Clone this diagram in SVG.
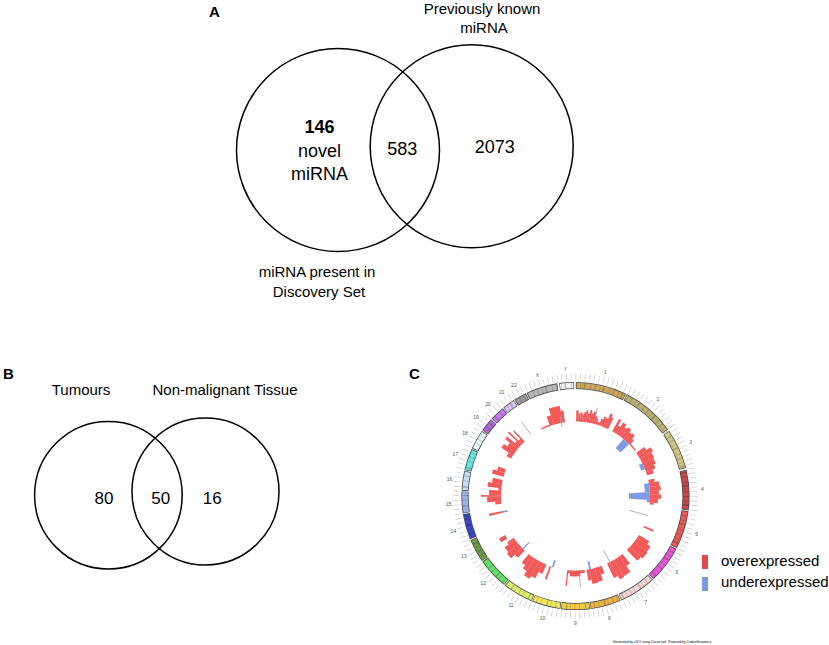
<svg xmlns="http://www.w3.org/2000/svg" width="829" height="645" viewBox="0 0 829 645">
<style>
 text { font-family: "Liberation Sans", Arial, sans-serif; fill:#000; }
 .lbl { font-size:15px; }
 .num { font-size:18px; }
 .numb { font-size:17px; }
 .mid { text-anchor:middle; }
 .panel { font-size:15px; font-weight:bold; }
 .venn { fill:none; stroke:#000; stroke-width:1.5; }
 .chrO { fill:none; stroke:#4a4a4a; stroke-width:7.2; }
 .chr { fill:none; stroke-width:5.6; }
 .up circle { fill:none; stroke:#f25a5a; }
 .dn circle { fill:none; stroke:#7f9be6; }
 .gl line { stroke:#a8a8a8; stroke-width:0.8; }
 .chrlab { font-size:5px; fill:#555; text-anchor:middle; }
</style>
<rect width="829" height="645" fill="#fff"/>

<!-- Panel A -->
<g id="panelA">
  <text class="panel" x="209" y="17">A</text>
  <g id="setA-discovery">
    <circle class="venn" cx="338" cy="150" r="101.5"/>
    <text class="lbl mid" x="317" y="277">miRNA present in</text>
    <text class="lbl mid" x="319" y="297">Discovery Set</text>
  </g>
  <g id="setA-known">
    <circle class="venn" cx="471.7" cy="146.3" r="101.5"/>
    <text class="lbl mid" x="482" y="14">Previously known</text>
    <text class="lbl mid" x="484" y="33">miRNA</text>
  </g>
  <g id="regionA-novel">
    <text class="num mid" x="319.5" y="133" font-weight="bold">146</text>
    <text class="num mid" x="319.5" y="157">novel</text>
    <text class="num mid" x="319.5" y="180">miRNA</text>
  </g>
  <g id="regionA-overlap"><text class="num mid" x="402.3" y="154.5">583</text></g>
  <g id="regionA-known"><text class="num mid" x="494.7" y="153">2073</text></g>
</g>

<!-- Panel B -->
<g id="panelB">
  <text class="panel" x="3" y="379">B</text>
  <g id="setB-tumours">
    <circle class="venn" cx="108.4" cy="495.2" r="73.8"/>
    <text class="lbl mid" x="81" y="395">Tumours</text>
  </g>
  <g id="setB-normal">
    <circle class="venn" cx="205.5" cy="491.5" r="73.5"/>
    <text class="lbl mid" x="225" y="395">Non-malignant Tissue</text>
  </g>
  <g id="regionB-tumour"><text class="numb mid" x="104" y="503.5">80</text></g>
  <g id="regionB-overlap"><text class="numb mid" x="160.7" y="503.5">50</text></g>
  <g id="regionB-normal"><text class="numb mid" x="212.3" y="503.5">16</text></g>
</g>

<!-- Panel C -->
<g id="panelC">
  <text class="panel" x="409" y="379">C</text>
  <g id="circos" transform="translate(575.5 496)">
    <!-- tick label texture -->
    <circle r="119.5" fill="none" stroke="#c2c2c2" stroke-width="6" pathLength="360" stroke-dasharray="0.3 1.95"/>
    <circle r="115" fill="none" stroke="#a8a8a8" stroke-width="1" pathLength="360" stroke-dasharray="0.2 2.05"/>
    <!-- chromosome outlines -->
    <g id="ideogram-outline" class="chrO">
      <circle r="110.5" pathLength="360" stroke-dasharray="26.1 360" transform="rotate(-89.8)"/>
      <circle r="110.5" pathLength="360" stroke-dasharray="27.6 360" transform="rotate(-63.3)"/>
      <circle r="110.5" pathLength="360" stroke-dasharray="20.6 360" transform="rotate(-34.8)"/>
      <circle r="110.5" pathLength="360" stroke-dasharray="20.6 360" transform="rotate(-13.3)"/>
      <circle r="110.5" pathLength="360" stroke-dasharray="19.6 360" transform="rotate(7.7)"/>
      <circle r="110.5" pathLength="360" stroke-dasharray="19.1 360" transform="rotate(27.7)"/>
      <circle r="110.5" pathLength="360" stroke-dasharray="19.1 360" transform="rotate(47.2)"/>
      <circle r="110.5" pathLength="360" stroke-dasharray="15.6 360" transform="rotate(66.7)"/>
      <circle r="110.5" pathLength="360" stroke-dasharray="14.6 360" transform="rotate(82.7)"/>
      <circle r="110.5" pathLength="360" stroke-dasharray="14.6 360" transform="rotate(97.7)"/>
      <circle r="110.5" pathLength="360" stroke-dasharray="15.6 360" transform="rotate(112.7)"/>
      <circle r="110.5" pathLength="360" stroke-dasharray="16.1 360" transform="rotate(128.7)"/>
      <circle r="110.5" pathLength="360" stroke-dasharray="12.1 360" transform="rotate(145.2)"/>
      <circle r="110.5" pathLength="360" stroke-dasharray="13.1 360" transform="rotate(157.7)"/>
      <circle r="110.5" pathLength="360" stroke-dasharray="11.1 360" transform="rotate(171.2)"/>
      <circle r="110.5" pathLength="360" stroke-dasharray="10.1 360" transform="rotate(182.7)"/>
      <circle r="110.5" pathLength="360" stroke-dasharray="11.1 360" transform="rotate(193.2)"/>
      <circle r="110.5" pathLength="360" stroke-dasharray="10.1 360" transform="rotate(204.7)"/>
      <circle r="110.5" pathLength="360" stroke-dasharray="7.1 360" transform="rotate(215.2)"/>
      <circle r="110.5" pathLength="360" stroke-dasharray="7.6 360" transform="rotate(222.7)"/>
      <circle r="110.5" pathLength="360" stroke-dasharray="6.6 360" transform="rotate(230.7)"/>
      <circle r="110.5" pathLength="360" stroke-dasharray="6.6 360" transform="rotate(237.7)"/>
      <circle r="110.5" pathLength="360" stroke-dasharray="16.1 360" transform="rotate(244.7)"/>
      <circle r="110.5" pathLength="360" stroke-dasharray="7.6 360" transform="rotate(261.7)"/>
    </g>
    <g id="ideogram" class="chr">
      <circle r="110.5" stroke="#c9a55e" pathLength="360" stroke-dasharray="25.5 360" transform="rotate(-89.5)"/>
      <circle r="110.5" stroke="#b9b174" pathLength="360" stroke-dasharray="27 360" transform="rotate(-63)"/>
      <circle r="110.5" stroke="#cdc684" pathLength="360" stroke-dasharray="20 360" transform="rotate(-34.5)"/>
      <circle r="110.5" stroke="#c4474b" pathLength="360" stroke-dasharray="20 360" transform="rotate(-13)"/>
      <circle r="110.5" stroke="#e85a5a" pathLength="360" stroke-dasharray="19 360" transform="rotate(8)"/>
      <circle r="110.5" stroke="#e458d8" pathLength="360" stroke-dasharray="18.5 360" transform="rotate(28)"/>
      <circle r="110.5" stroke="#f4d6d6" pathLength="360" stroke-dasharray="18.5 360" transform="rotate(47.5)"/>
      <circle r="110.5" stroke="#e8b44a" pathLength="360" stroke-dasharray="15 360" transform="rotate(67)"/>
      <circle r="110.5" stroke="#f0cc4a" pathLength="360" stroke-dasharray="14 360" transform="rotate(83)"/>
      <circle r="110.5" stroke="#eee860" pathLength="360" stroke-dasharray="14 360" transform="rotate(98)"/>
      <circle r="110.5" stroke="#e2ee72" pathLength="360" stroke-dasharray="15 360" transform="rotate(113)"/>
      <circle r="110.5" stroke="#66e066" pathLength="360" stroke-dasharray="15.5 360" transform="rotate(129)"/>
      <circle r="110.5" stroke="#6f9a45" pathLength="360" stroke-dasharray="11.5 360" transform="rotate(145.5)"/>
      <circle r="110.5" stroke="#3a47c8" pathLength="360" stroke-dasharray="12.5 360" transform="rotate(158)"/>
      <circle r="110.5" stroke="#9ab4ee" pathLength="360" stroke-dasharray="10.5 360" transform="rotate(171.5)"/>
      <circle r="110.5" stroke="#c4dcf4" pathLength="360" stroke-dasharray="9.5 360" transform="rotate(183)"/>
      <circle r="110.5" stroke="#66e6e6" pathLength="360" stroke-dasharray="10.5 360" transform="rotate(193.5)"/>
      <circle r="110.5" stroke="#e4f6f6" pathLength="360" stroke-dasharray="9.5 360" transform="rotate(205)"/>
      <circle r="110.5" stroke="#b068d8" pathLength="360" stroke-dasharray="6.5 360" transform="rotate(215.5)"/>
      <circle r="110.5" stroke="#c878f0" pathLength="360" stroke-dasharray="7 360" transform="rotate(223)"/>
      <circle r="110.5" stroke="#dcc4f8" pathLength="360" stroke-dasharray="6 360" transform="rotate(231)"/>
      <circle r="110.5" stroke="#9a9a9a" pathLength="360" stroke-dasharray="6 360" transform="rotate(238)"/>
      <circle r="110.5" stroke="#b8b8b8" pathLength="360" stroke-dasharray="15.5 360" transform="rotate(245)"/>
      <circle r="110.5" stroke="#f2f2f2" pathLength="360" stroke-dasharray="7 360" transform="rotate(262)"/>
    </g>
    <!-- cytoband texture -->
    <circle r="110.5" fill="none" stroke="#000" stroke-opacity="0.2" stroke-width="5.6" pathLength="360" stroke-dasharray="0.5 2.1 0.3 1.4 0.8 2.6 0.4 1.9"/>

    <!-- overexpressed histogram (outward from baseline r=74.5) -->
    <g id="overexpressed" class="up">
      <circle r="80" stroke-width="11" pathLength="360" stroke-dasharray="1.65 360" transform="rotate(-89.5)"/>
      <circle r="78.5" stroke-width="8" pathLength="360" stroke-dasharray="1.65 360" transform="rotate(-88)"/>
      <circle r="79" stroke-width="9" pathLength="360" stroke-dasharray="1.65 360" transform="rotate(-86.5)"/>
      <circle r="78" stroke-width="7" pathLength="360" stroke-dasharray="1.15 360" transform="rotate(-85)"/>
      <circle r="79.5" stroke-width="10" pathLength="360" stroke-dasharray="1.65 360" transform="rotate(-84)"/>
      <circle r="80.5" stroke-width="12" pathLength="360" stroke-dasharray="1.15 360" transform="rotate(-82.5)"/>
      <circle r="79" stroke-width="9" pathLength="360" stroke-dasharray="1.65 360" transform="rotate(-81.5)"/>
      <circle r="81" stroke-width="13" pathLength="360" stroke-dasharray="1.15 360" transform="rotate(-80)"/>
      <circle r="79.5" stroke-width="10" pathLength="360" stroke-dasharray="1.65 360" transform="rotate(-79)"/>
      <circle r="80.5" stroke-width="12" pathLength="360" stroke-dasharray="1.65 360" transform="rotate(-77.5)"/>
      <circle r="78.5" stroke-width="8" pathLength="360" stroke-dasharray="1.65 360" transform="rotate(-76)"/>
      <circle r="77.5" stroke-width="6" pathLength="360" stroke-dasharray="1.15 360" transform="rotate(-74.5)"/>
      <circle r="76" stroke-width="3" pathLength="360" stroke-dasharray="2.15 360" transform="rotate(-73.5)"/>
      <circle r="78" stroke-width="7" pathLength="360" stroke-dasharray="1.65 360" transform="rotate(-71.5)"/>
      <circle r="79.5" stroke-width="10" pathLength="360" stroke-dasharray="1.65 360" transform="rotate(-70)"/>
      <circle r="79" stroke-width="9" pathLength="360" stroke-dasharray="1.65 360" transform="rotate(-68.5)"/>
      <circle r="82" stroke-width="15" pathLength="360" stroke-dasharray="1.65 360" transform="rotate(-67)"/>
      <circle r="80.5" stroke-width="12" pathLength="360" stroke-dasharray="1.5 360" transform="rotate(-65.5)"/>

      <circle r="81.5" stroke-width="14" pathLength="360" stroke-dasharray="1.65 360" transform="rotate(-60.5)"/>
      <circle r="78.5" stroke-width="8" pathLength="360" stroke-dasharray="2.15 360" transform="rotate(-59)"/>
      <circle r="81" stroke-width="13" pathLength="360" stroke-dasharray="2.65 360" transform="rotate(-57)"/>
      <circle r="79.5" stroke-width="10" pathLength="360" stroke-dasharray="2.15 360" transform="rotate(-54.5)"/>
      <circle r="80.5" stroke-width="12" pathLength="360" stroke-dasharray="2.65 360" transform="rotate(-52.5)"/>
      <circle r="79" stroke-width="9" pathLength="360" stroke-dasharray="2.15 360" transform="rotate(-50)"/>
      <circle r="79.5" stroke-width="10" pathLength="360" stroke-dasharray="2.65 360" transform="rotate(-48)"/>
      <circle r="77.5" stroke-width="6" pathLength="360" stroke-dasharray="2.15 360" transform="rotate(-45.5)"/>
      <circle r="75.25" stroke-width="1.5" pathLength="360" stroke-dasharray="6.5 360" transform="rotate(-43.5)"/>

      <circle r="79.5" stroke-width="10" pathLength="360" stroke-dasharray="2.65 360" transform="rotate(-35.5)"/>
      <circle r="82" stroke-width="15" pathLength="360" stroke-dasharray="3.15 360" transform="rotate(-33)"/>
      <circle r="81" stroke-width="13" pathLength="360" stroke-dasharray="4.15 360" transform="rotate(-30)"/>
      <circle r="80.5" stroke-width="12" pathLength="360" stroke-dasharray="4.15 360" transform="rotate(-26)"/>
      <circle r="79.5" stroke-width="10" pathLength="360" stroke-dasharray="3.15 360" transform="rotate(-22)"/>
      <circle r="78" stroke-width="7" pathLength="360" stroke-dasharray="3 360" transform="rotate(-19)"/>

      <circle r="77.5" stroke-width="6" pathLength="360" stroke-dasharray="2.65 360" transform="rotate(-12.5)"/>
      <circle r="79.5" stroke-width="10" pathLength="360" stroke-dasharray="3.15 360" transform="rotate(-10)"/>
      <circle r="80" stroke-width="11" pathLength="360" stroke-dasharray="3.15 360" transform="rotate(-7)"/>
      <circle r="79" stroke-width="9" pathLength="360" stroke-dasharray="3.15 360" transform="rotate(-4)"/>
      <circle r="80" stroke-width="11" pathLength="360" stroke-dasharray="3.15 360" transform="rotate(-1)"/>
      <circle r="78.5" stroke-width="8" pathLength="360" stroke-dasharray="3.15 360" transform="rotate(2)"/>
      <circle r="76.5" stroke-width="4" pathLength="360" stroke-dasharray="1.5 360" transform="rotate(5)"/>

      <circle r="80" stroke-width="11" pathLength="360" stroke-dasharray="1.3 360" transform="rotate(23.5)"/>

      <circle r="80.5" stroke-width="12" pathLength="360" stroke-dasharray="2.65 360" transform="rotate(31.5)"/>
      <circle r="82.5" stroke-width="16" pathLength="360" stroke-dasharray="4.15 360" transform="rotate(34)"/>
      <circle r="83" stroke-width="17" pathLength="360" stroke-dasharray="5.15 360" transform="rotate(38)"/>
      <circle r="82" stroke-width="15" pathLength="360" stroke-dasharray="3.5 360" transform="rotate(43)"/>

      <circle r="80.5" stroke-width="12" pathLength="360" stroke-dasharray="3.15 360" transform="rotate(51)"/>
      <circle r="84" stroke-width="19" pathLength="360" stroke-dasharray="5.15 360" transform="rotate(54)"/>
      <circle r="84.5" stroke-width="20" pathLength="360" stroke-dasharray="3.15 360" transform="rotate(59)"/>
      <circle r="82.5" stroke-width="16" pathLength="360" stroke-dasharray="3 360" transform="rotate(62)"/>

      <circle r="78.5" stroke-width="8" pathLength="360" stroke-dasharray="2.65 360" transform="rotate(69.5)"/>
      <circle r="81.5" stroke-width="14" pathLength="360" stroke-dasharray="3.15 360" transform="rotate(72)"/>
      <circle r="82" stroke-width="15" pathLength="360" stroke-dasharray="4.15 360" transform="rotate(75)"/>
      <circle r="80" stroke-width="11" pathLength="360" stroke-dasharray="2.5 360" transform="rotate(79)"/>

      <circle r="76" stroke-width="3" pathLength="360" stroke-dasharray="3.65 360" transform="rotate(83)"/>
      <circle r="77.5" stroke-width="6" pathLength="360" stroke-dasharray="7.65 360" transform="rotate(86.5)"/>
      <circle r="76" stroke-width="3" pathLength="360" stroke-dasharray="1.65 360" transform="rotate(94)"/>
      <circle r="82.5" stroke-width="16" pathLength="360" stroke-dasharray="0.9 360" transform="rotate(95.5)"/>

      <circle r="81.5" stroke-width="14" pathLength="360" stroke-dasharray="1.3 360" transform="rotate(109)"/>

      <circle r="79.5" stroke-width="10" pathLength="360" stroke-dasharray="3.15 360" transform="rotate(113)"/>
      <circle r="83" stroke-width="17" pathLength="360" stroke-dasharray="3.15 360" transform="rotate(116)"/>
      <circle r="84.5" stroke-width="20" pathLength="360" stroke-dasharray="4.15 360" transform="rotate(119)"/>
      <circle r="82" stroke-width="15" pathLength="360" stroke-dasharray="3.15 360" transform="rotate(123)"/>
      <circle r="80" stroke-width="11" pathLength="360" stroke-dasharray="3 360" transform="rotate(126)"/>

      <circle r="79.5" stroke-width="10" pathLength="360" stroke-dasharray="3.15 360" transform="rotate(133)"/>
      <circle r="82" stroke-width="15" pathLength="360" stroke-dasharray="4.15 360" transform="rotate(136)"/>
      <circle r="81" stroke-width="13" pathLength="360" stroke-dasharray="4.15 360" transform="rotate(140)"/>
      <circle r="78.5" stroke-width="8" pathLength="360" stroke-dasharray="2 360" transform="rotate(144)"/>
      <circle r="84" stroke-width="7" pathLength="360" stroke-dasharray="3 360" transform="rotate(148)"/>

      <circle r="81.5" stroke-width="14" pathLength="360" stroke-dasharray="1.4 360" transform="rotate(167)"/>

      <circle r="77.5" stroke-width="6" pathLength="360" stroke-dasharray="2.15 360" transform="rotate(174)"/>
      <circle r="81.5" stroke-width="14" pathLength="360" stroke-dasharray="3.65 360" transform="rotate(176)"/>
      <circle r="84.5" stroke-width="20" pathLength="360" stroke-dasharray="1.15 360" transform="rotate(179.5)"/>
      <circle r="80.5" stroke-width="12" pathLength="360" stroke-dasharray="3.65 360" transform="rotate(180.5)"/>
      <circle r="76" stroke-width="3" pathLength="360" stroke-dasharray="2.15 360" transform="rotate(184)"/>
      <circle r="81.5" stroke-width="14" pathLength="360" stroke-dasharray="3.15 360" transform="rotate(186)"/>
      <circle r="79.5" stroke-width="10" pathLength="360" stroke-dasharray="3.5 360" transform="rotate(189)"/>

      <circle r="80.5" stroke-width="12" pathLength="360" stroke-dasharray="3.15 360" transform="rotate(195)"/>
      <circle r="78.5" stroke-width="8" pathLength="360" stroke-dasharray="3 360" transform="rotate(198)"/>

      <circle r="77" stroke-width="5" pathLength="360" stroke-dasharray="3.15 360" transform="rotate(210)"/>
      <circle r="81.5" stroke-width="14" pathLength="360" stroke-dasharray="3.15 360" transform="rotate(213)"/>
      <circle r="79.5" stroke-width="10" pathLength="360" stroke-dasharray="3.15 360" transform="rotate(216)"/>
      <circle r="82.5" stroke-width="16" pathLength="360" stroke-dasharray="2.15 360" transform="rotate(219)"/>
      <circle r="77.5" stroke-width="6" pathLength="360" stroke-dasharray="2.15 360" transform="rotate(221)"/>
      <circle r="83.5" stroke-width="18" pathLength="360" stroke-dasharray="1.15 360" transform="rotate(223)"/>
      <circle r="77" stroke-width="5" pathLength="360" stroke-dasharray="2.15 360" transform="rotate(224)"/>
      <circle r="82" stroke-width="15" pathLength="360" stroke-dasharray="1 360" transform="rotate(226)"/>

      <circle r="75.25" stroke-width="1.5" pathLength="360" stroke-dasharray="7.15 360" transform="rotate(243)"/>
      <circle r="79.5" stroke-width="10" pathLength="360" stroke-dasharray="3.15 360" transform="rotate(250)"/>
      <circle r="83" stroke-width="17" pathLength="360" stroke-dasharray="7.15 360" transform="rotate(253)"/>
      <circle r="80.5" stroke-width="12" pathLength="360" stroke-dasharray="2 360" transform="rotate(260)"/>
    </g>

    <!-- underexpressed histogram (inward) -->
    <g id="underexpressed" class="dn">
      <circle r="68.5" stroke-width="12" pathLength="360" stroke-dasharray="6 360" transform="rotate(-50)"/>
      <circle r="72.5" stroke-width="4" pathLength="360" stroke-dasharray="5 360" transform="rotate(-26)"/>
      <circle r="72" stroke-width="5" pathLength="360" stroke-dasharray="7.15 360" transform="rotate(-10)"/>
      <circle r="64" stroke-width="21" pathLength="360" stroke-dasharray="6.15 360" transform="rotate(-3)"/>
      <circle r="73" stroke-width="3" pathLength="360" stroke-dasharray="2 360" transform="rotate(3)"/>
      <circle r="70.5" stroke-width="8" pathLength="360" stroke-dasharray="1.5 360" transform="rotate(78)"/>
      <circle r="71" stroke-width="7" pathLength="360" stroke-dasharray="1.5 360" transform="rotate(107)"/>
      <circle r="70" stroke-width="9" pathLength="360" stroke-dasharray="1 360" transform="rotate(134.5)"/>
      <circle r="72" stroke-width="5" pathLength="360" stroke-dasharray="1.5 360" transform="rotate(167)"/>
    </g>

    <!-- thin grey radial marks -->
    <g id="grey-marks" class="gl">
      <line x1="0" y1="-56" x2="0" y2="-75" transform="rotate(105)"/>
      <line x1="0" y1="-61" x2="0" y2="-76" transform="rotate(152.5)"/>
      <line x1="0" y1="-79" x2="0" y2="-92" transform="rotate(177)"/>
      <line x1="0" y1="-76" x2="0" y2="-92" transform="rotate(324)"/>
      <line x1="0" y1="-70" x2="0" y2="-81" transform="rotate(349)"/>
      <line x1="0" y1="-84" x2="0" y2="-91" transform="rotate(14)"/>
    </g>
  </g>

  <!-- chromosome labels -->
  <g id="chrom-labels">
    <text class="chrlab" x="605.1" y="374">1</text>
    <text class="chrlab" x="658" y="401">2</text>
    <text class="chrlab" x="690.6" y="444">3</text>
    <text class="chrlab" x="702.3" y="491">4</text>
    <text class="chrlab" x="696.6" y="536">5</text>
    <text class="chrlab" x="676.9" y="574">6</text>
    <text class="chrlab" x="645.6" y="603.5">7</text>
    <text class="chrlab" x="609.4" y="620">8</text>
    <text class="chrlab" x="575.5" y="624.5">9</text>
    <text class="chrlab" x="542.6" y="620">10</text>
    <text class="chrlab" x="511" y="607">11</text>
    <text class="chrlab" x="483.4" y="585">12</text>
    <text class="chrlab" x="463.9" y="558">13</text>
    <text class="chrlab" x="453.4" y="532.5">14</text>
    <text class="chrlab" x="448.7" y="505.5">15</text>
    <text class="chrlab" x="449.6" y="481">16</text>
    <text class="chrlab" x="455.4" y="456">17</text>
    <text class="chrlab" x="465" y="435">18</text>
    <text class="chrlab" x="476.1" y="418.5">19</text>
    <text class="chrlab" x="488.1" y="405.5">20</text>
    <text class="chrlab" x="501.8" y="394">21</text>
    <text class="chrlab" x="513.9" y="386.5">22</text>
    <text class="chrlab" x="537.3" y="376.5">X</text>
    <text class="chrlab" x="565.5" y="371">Y</text>
  </g>

  <g id="legend">
    <rect x="702" y="555" width="6" height="14" fill="#e5474f"/>
    <text class="lbl" x="721" y="566">overexpressed</text>
    <rect x="702" y="577" width="6" height="14" fill="#7f98e0"/>
    <text class="lbl" x="721" y="587">underexpressed</text>
  </g>
  <text x="613" y="643" font-size="3.2" fill="#333" textLength="99" lengthAdjust="spacingAndGlyphs">Generated by ciVO using Circos tool. Powered by CodonGenomics.</text>
</g>
</svg>
